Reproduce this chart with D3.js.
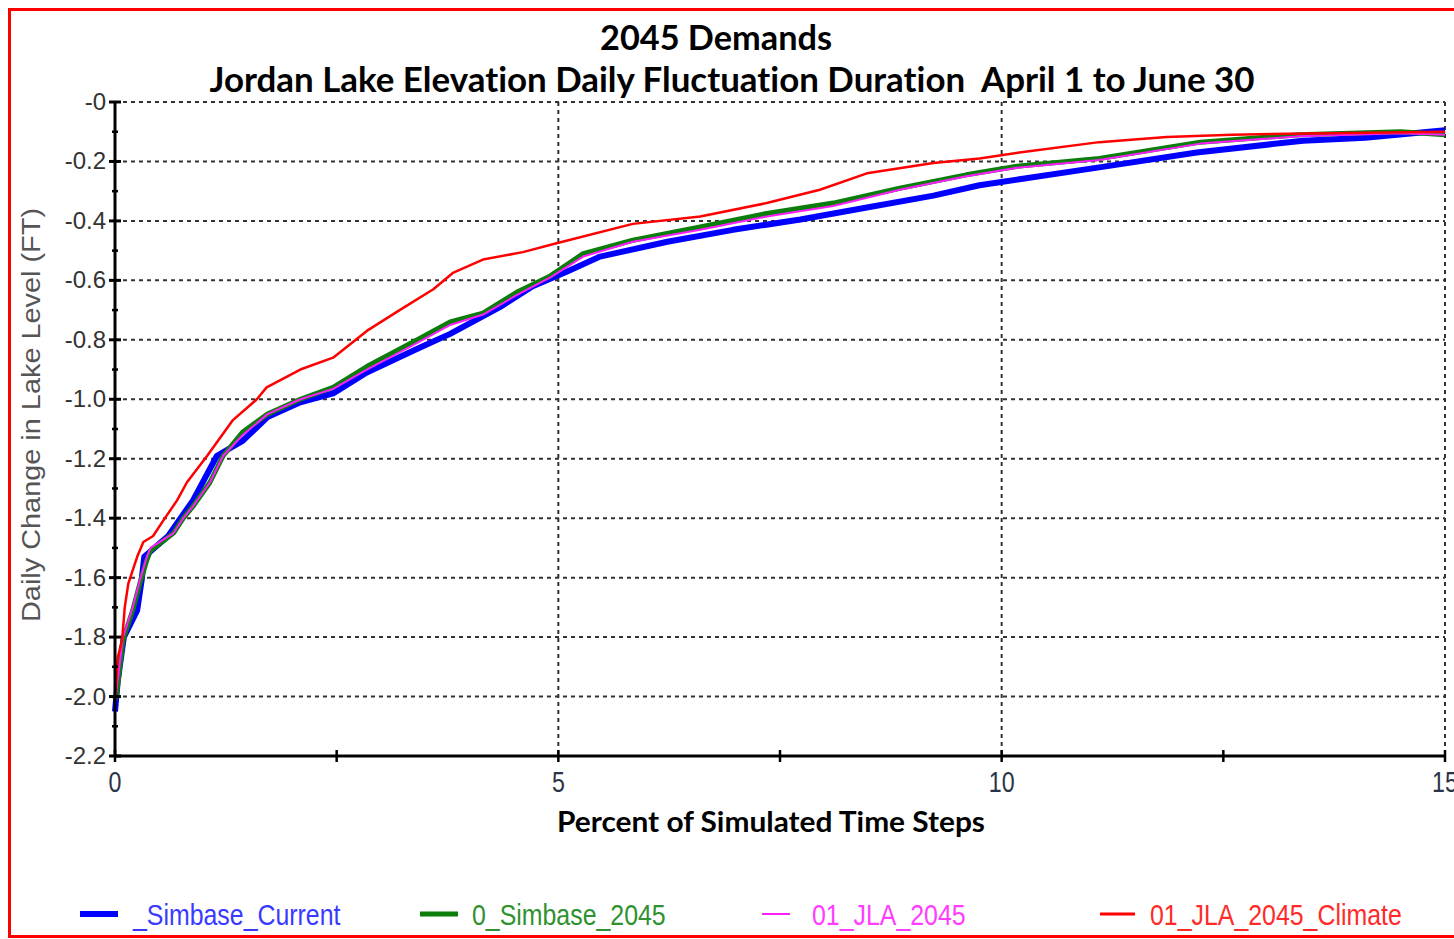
<!DOCTYPE html>
<html>
<head>
<meta charset="utf-8">
<script src="https://cdn.jsdelivr.net/npm/d3@7/dist/d3.min.js"></script>
<style>
  html, body { margin: 0; padding: 0; background: #fff; }
  svg { display: block; }
  text { font-variant-ligatures: none; }
</style>
</head>
<body>
<div id="chart"></div>
<script>
(() => {

  // percent of time steps / daily change (ft)
  const simbaseCurrentPct = [0, 0.03, 0.1, 0.25, 0.3, 0.33, 0.6, 0.88, 1.15, 1.44, 1.72, 2.09, 2.46, 2.84, 3.41, 3.78, 4.34, 4.71, 5.1, 5.47, 6.23, 6.97, 7.73, 8.48, 9.23, 9.75, 10.2, 11.1, 12.2, 13.4, 14.1, 15]
  const simbaseCurrentVal = [-2.05, -1.95, -1.80, -1.71, -1.61, -1.53, -1.46, -1.34, -1.19, -1.14, -1.06, -1.01, -0.98, -0.91, -0.83, -0.78, -0.69, -0.62, -0.57, -0.52, -0.47, -0.43, -0.395, -0.355, -0.315, -0.28, -0.26, -0.22, -0.17, -0.13, -0.12, -0.095]

  const simbase2045Pct = [0, 0.02, 0.09, 0.2, 0.28, 0.36, 0.4, 0.66, 0.77, 0.88, 1.07, 1.22, 1.44, 1.72, 2.09, 2.46, 2.84, 3.41, 3.78, 4.15, 4.53, 4.91, 5.28, 5.84, 6.6, 7.35, 8.1, 8.85, 9.6, 10.2, 11.1, 12.24, 13.36, 14.5, 15]
  const simbase2045Val = [-2.01, -1.99, -1.81, -1.71, -1.62, -1.54, -1.51, -1.45, -1.40, -1.36, -1.28, -1.19, -1.11, -1.05, -1.0, -0.96, -0.89, -0.80, -0.74, -0.71, -0.64, -0.585, -0.51, -0.465, -0.42, -0.375, -0.34, -0.29, -0.245, -0.215, -0.19, -0.135, -0.11, -0.1, -0.11]

  const jla2045Pct = [0, 0.02, 0.09, 0.2, 0.28, 0.36, 0.4, 0.66, 0.77, 0.88, 1.07, 1.22, 1.44, 1.72, 2.09, 2.46, 2.84, 3.41, 3.78, 4.15, 4.53, 4.91, 5.28, 5.84, 6.6, 7.35, 8.1, 8.85, 9.6, 10.2, 11.1, 12.24, 13.36, 14.5, 15]
  const jla2045Val = [-2.02, -1.97, -1.80, -1.70, -1.61, -1.53, -1.50, -1.45, -1.40, -1.36, -1.28, -1.19, -1.12, -1.05, -1.0, -0.965, -0.90, -0.81, -0.75, -0.715, -0.65, -0.59, -0.52, -0.47, -0.43, -0.385, -0.35, -0.295, -0.25, -0.22, -0.195, -0.14, -0.115, -0.105, -0.11]

  const jlaClimatePct = [0, 0.03, 0.08, 0.11, 0.15, 0.25, 0.32, 0.43, 0.54, 0.7, 0.81, 1.04, 1.33, 1.6, 1.71, 2.09, 2.46, 2.84, 3.21, 3.59, 3.81, 4.15, 4.6, 4.98, 5.84, 6.6, 7.35, 7.95, 8.48, 9.23, 9.75, 10.2, 11.1, 11.86, 12.6, 13.7, 15]
  const jlaClimateVal = [-2.01, -1.87, -1.81, -1.70, -1.62, -1.53, -1.48, -1.46, -1.41, -1.34, -1.28, -1.19, -1.07, -1.0, -0.96, -0.90, -0.86, -0.77, -0.70, -0.63, -0.575, -0.53, -0.505, -0.475, -0.41, -0.385, -0.34, -0.295, -0.24, -0.205, -0.19, -0.17, -0.135, -0.118, -0.11, -0.105, -0.10]

  const seriesNames = ['_Simbase_Current', '0_Simbase_2045', '01_JLA_2045', '01_JLA_2045_Climate']
  const yTicks = [0, -0.2, -0.4, -0.6, -0.8, -1.0, -1.2, -1.4, -1.6, -1.8, -2.0, -2.2]
  const yMinorTicks = [-0.1, -0.3, -0.5, -0.7, -0.9, -1.1, -1.3, -1.5, -1.7, -1.9, -2.1]
  const xTicks = [0, 5, 10, 15]
  const xMinorTicks = [2.5, 7.5, 12.5]

  const width = 1454
  const height = 939
  const plot = {left: 115, right: 1445, top: 102, bottom: 756}

  const series = [
    {name: seriesNames[0], pct: simbaseCurrentPct, val: simbaseCurrentVal, color: '#0000ff', text: '#3a3aff', w: 6},
    {name: seriesNames[1], pct: simbase2045Pct, val: simbase2045Val, color: '#0a7d0a', text: '#2f912f', w: 5},
    {name: seriesNames[2], pct: jla2045Pct, val: jla2045Val, color: '#ff1dff', text: '#ff3cff', w: 2},
    {name: seriesNames[3], pct: jlaClimatePct, val: jlaClimateVal, color: '#ff0000', text: '#ff2a2a', w: 2.5},
  ]

  const svg = d3.select('#chart')
    .append('svg')
    .attr('width', width)
    .attr('height', height)

  const x = d3.scaleLinear().domain([0, 15]).range([plot.left, plot.right])
  const y = d3.scaleLinear().domain([-2.2, 0]).range([plot.bottom, plot.top])

  // red frame
  svg.append('rect')
    .attr('x', 9.5)
    .attr('y', 9.5)
    .attr('width', 1470)
    .attr('height', 927)
    .attr('fill', 'none')
    .attr('stroke', '#ff0000')
    .attr('stroke-width', 3)

  // titles
  svg.append('text')
    .attr('x', 716)
    .attr('y', 50)
    .attr('text-anchor', 'middle')
    .attr('textLength', 232)
    .attr('lengthAdjust', 'spacingAndGlyphs')
    .style('font-family', 'Lato, "Open Sans", sans-serif')
    .style('font-weight', 'bold')
    .style('font-size', '34px')
    .attr('fill', '#000')
    .text('2045 Demands')

  svg.append('text')
    .attr('x', 732)
    .attr('y', 92)
    .attr('text-anchor', 'middle')
    .attr('textLength', 1045)
    .attr('lengthAdjust', 'spacingAndGlyphs')
    .style('font-family', 'Lato, "Open Sans", sans-serif')
    .style('font-weight', 'bold')
    .style('font-size', '34px')
    .style('white-space', 'pre')
    .attr('fill', '#000')
    .text('Jordan Lake Elevation Daily Fluctuation Duration  April 1 to June 30')

  // grid
  const grid = svg.append('g')
    .attr('stroke', '#333')
    .attr('stroke-width', 2)
    .attr('stroke-dasharray', '4,4')
  grid.selectAll('.hgrid')
    .data(yTicks.filter(d => d > -2.2))
    .enter()
    .append('line')
    .attr('class', 'hgrid')
    .attr('x1', plot.left)
    .attr('x2', plot.right)
    .attr('y1', d => y(d))
    .attr('y2', d => y(d))
  grid.selectAll('.vgrid')
    .data(xTicks.filter(d => d > 0))
    .enter()
    .append('line')
    .attr('class', 'vgrid')
    .attr('x1', d => x(d))
    .attr('x2', d => x(d))
    .attr('y1', plot.top)
    .attr('y2', plot.bottom)

  // curves
  const line = d3.line()
    .x(d => x(d[0]))
    .y(d => y(d[1]))

  svg.append('g')
    .selectAll('path')
    .data(series)
    .enter()
    .append('path')
    .attr('d', s => line(s.pct.map((p, i) => [p, s.val[i]])))
    .attr('fill', 'none')
    .attr('stroke', s => s.color)
    .attr('stroke-width', s => s.w)
    .attr('stroke-linejoin', 'round')

  // axes
  const axes = svg.append('g').attr('stroke', '#000')
  axes.append('line')
    .attr('x1', plot.left).attr('x2', plot.left)
    .attr('y1', plot.top).attr('y2', plot.bottom)
    .attr('stroke-width', 3)
  axes.append('line')
    .attr('x1', plot.left).attr('x2', plot.right)
    .attr('y1', plot.bottom).attr('y2', plot.bottom)
    .attr('stroke-width', 3)

  axes.selectAll('.ytick')
    .data(yTicks)
    .enter()
    .append('line')
    .attr('x1', plot.left - 6).attr('x2', plot.left + 6)
    .attr('y1', d => y(d)).attr('y2', d => y(d))
    .attr('stroke-width', 3)
  axes.selectAll('.yminor')
    .data(yMinorTicks)
    .enter()
    .append('line')
    .attr('x1', plot.left - 3).attr('x2', plot.left + 3)
    .attr('y1', d => y(d)).attr('y2', d => y(d))
    .attr('stroke-width', 2.5)
  axes.selectAll('.xtick')
    .data(xTicks.concat(xMinorTicks))
    .enter()
    .append('line')
    .attr('x1', d => x(d)).attr('x2', d => x(d))
    .attr('y1', plot.bottom - 6).attr('y2', plot.bottom + 6)
    .attr('stroke-width', 2.5)

  // tick labels (plain hyphen, as on the original)
  svg.append('g')
    .selectAll('text')
    .data(yTicks)
    .enter()
    .append('text')
    .attr('x', plot.left - 9)
    .attr('y', d => y(d) + 8)
    .attr('text-anchor', 'end')
    .style('font-family', 'Arial, "Liberation Sans", sans-serif')
    .style('font-size', '24px')
    .attr('fill', '#333')
    .text(d => d === 0 ? '-0' : '-' + Math.abs(d).toFixed(1))

  svg.append('g')
    .selectAll('text')
    .data(xTicks)
    .enter()
    .append('text')
    .attr('transform', d => `translate(${x(d)},${plot.bottom + 36}) scale(0.8,1)`)
    .attr('text-anchor', 'middle')
    .style('font-family', 'Arial, "Liberation Sans", sans-serif')
    .style('font-size', '29px')
    .attr('fill', '#2b3346')
    .text(d => d)

  // axis titles
  svg.append('text')
    .attr('x', 771)
    .attr('y', 832)
    .attr('text-anchor', 'middle')
    .attr('textLength', 428)
    .attr('lengthAdjust', 'spacingAndGlyphs')
    .style('font-family', 'Lato, "Open Sans", sans-serif')
    .style('font-weight', 'bold')
    .style('font-size', '29px')
    .attr('fill', '#000')
    .text('Percent of Simulated Time Steps')

  svg.append('text')
    .attr('transform', 'translate(40,415) rotate(-90)')
    .attr('text-anchor', 'middle')
    .attr('textLength', 414)
    .attr('lengthAdjust', 'spacingAndGlyphs')
    .style('font-family', 'Arial, "Liberation Sans", sans-serif')
    .style('font-size', '26px')
    .attr('fill', '#555')
    .text('Daily Change in Lake Level (FT)')

  // legend
  const legendX = [80, 420, 762, 1100]
  const legendLen = [38, 38, 28, 35]
  const legendTextX = [133, 472, 812, 1150]
  const legend = svg.append('g')
    .selectAll('g')
    .data(series)
    .enter()
    .append('g')
  legend.append('line')
    .attr('x1', (d, i) => legendX[i])
    .attr('x2', (d, i) => legendX[i] + legendLen[i])
    .attr('y1', 914)
    .attr('y2', 914)
    .attr('stroke', d => d.color)
    .attr('stroke-width', d => d.w === 2.5 ? 3 : d.w)
  legend.append('text')
    .attr('transform', (d, i) => `translate(${legendTextX[i]},925) scale(0.83,1)`)
    .style('font-family', 'Arial, "Liberation Sans", sans-serif')
    .style('font-size', '30px')
    .attr('fill', d => d.text)
    .text(d => d.name)

})()
</script>
</body>
</html>
